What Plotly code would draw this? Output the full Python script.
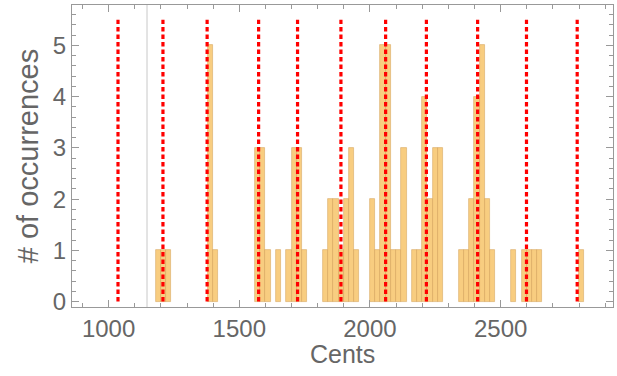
import plotly.graph_objects as go

# Histogram bins (left edge in cents, 20-cent wide bins) and counts
bin_starts = [1180, 1200, 1220,
              1380, 1400,
              1560, 1580, 1600,
              1640,
              1680, 1700, 1720, 1740,
              1820, 1840, 1860, 1880, 1900, 1920, 1940,
              2000, 2020, 2040, 2060, 2080, 2100, 2120,
              2160, 2180, 2200, 2220, 2240, 2260,
              2340, 2360, 2380, 2400, 2420, 2440, 2460,
              2540,
              2580, 2600, 2620, 2640,
              2800]
counts = [1, 1, 1,
          5, 1,
          3, 3, 1,
          1,
          1, 3, 3, 1,
          1, 2, 2, 1, 2, 3, 1,
          2, 1, 5, 5, 1, 1, 3,
          1, 1, 4, 2, 3, 3,
          1, 1, 2, 4, 5, 2, 1,
          1,
          1, 1, 1, 1,
          1]
bin_width = 20

# Reference (red dashed) positions in cents
marker_cents = [1036, 1208, 1377, 1574, 1723, 1889, 2060, 2216, 2412, 2599, 2793]
marker_height = 5.5

x_ticks = [1000, 1500, 2000, 2500]
y_ticks = [0, 1, 2, 3, 4, 5]

centers = [b + bin_width / 2 for b in bin_starts]

fig = go.Figure()

fig.add_trace(go.Bar(
    x=centers, y=counts, width=[bin_width] * len(centers),
    marker=dict(color="#F8CD80", line=dict(color="rgba(205,150,70,0.55)", width=0.8)),
    showlegend=False,
))

lx, ly = [], []
for c in marker_cents:
    lx += [c, c, None]
    ly += [0, marker_height, None]
fig.add_trace(go.Scatter(
    x=lx, y=ly, mode="lines",
    line=dict(color="#FF0000", width=3.2, dash="4.5px,3px"),
    showlegend=False, hoverinfo="skip",
))

# axis-origin line
fig.add_shape(type="line", x0=1147, x1=1147, y0=0, y1=1, xref="x", yref="paper",
              line=dict(color="#C8C8C8", width=1), layer="below")

axis_common = dict(
    showgrid=False, zeroline=False, showline=True, linecolor="#999999", linewidth=1,
    mirror="ticks", ticks="inside", ticklen=7, tickcolor="#999999", tickwidth=1,
    tickfont=dict(family="Liberation Sans, Arial, sans-serif", size=24, color="#666666"),
)

fig.update_layout(
    width=617, height=376,
    margin=dict(l=72, r=4, t=5, b=69),
    plot_bgcolor="white", paper_bgcolor="white",
    bargap=0,
    font=dict(family="Liberation Sans, Arial, sans-serif", color="#666666"),
    xaxis=dict(
        range=[860, 2930], tickmode="array", tickvals=x_ticks,
        ticktext=[str(t) for t in x_ticks],
        minor=dict(ticks="inside", ticklen=4, dtick=100, tick0=1000, tickcolor="#999999"),
        **axis_common,
    ),
    yaxis=dict(
        range=[-0.107, 5.79], tickmode="array", tickvals=y_ticks,
        ticktext=[str(t) for t in y_ticks],
        minor=dict(ticks="inside", ticklen=4, dtick=0.2, tick0=0, tickcolor="#999999"),
        title=dict(text="# of occurrences", font=dict(size=29, color="#666666"), standoff=5),
        **axis_common,
    ),
    annotations=[dict(
        text="Cents", xref="paper", yref="paper", x=0.5, y=-0.155,
        xanchor="center", yanchor="middle", showarrow=False,
        font=dict(size=25, color="#666666"),
    )],
)

fig.write_html("out.html")
